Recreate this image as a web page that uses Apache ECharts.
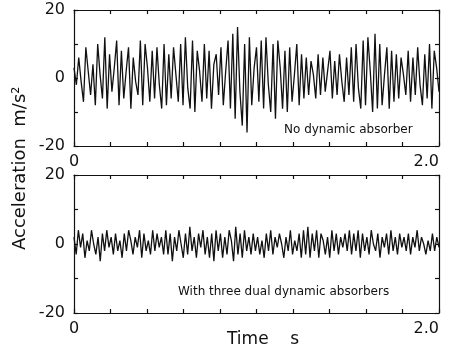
<!DOCTYPE html>
<html>
<head>
<meta charset="utf-8">
<script src="https://cdn.jsdelivr.net/npm/echarts@6/dist/echarts.min.js"></script>
<style>
  html, body { margin: 0; padding: 0; background: #fff; }
  #chart { width: 456px; height: 349px; }
</style>
</head>
<body>
<div id="chart"></div>
<script>
// acceleration samples (m/s^2), evenly spread over 0..2 s
const noAbsorber = [
  3, -2, 6, -1, -7, 9, 2, -5, 4, -8, 10, 1, -6, 12, -9, 7, -4, 3, 11, -8,
  8, -6, 2, 9, -9, 6, -1, -5, 11, -8, 10, 3, -7, 8, -6, 9, -2, -9, 10, -8,
  7, -6, 9, 1, -7, 10, -8, 12, -3, -9, 11, -10, 8, 2, -7, 10, -6, 8, -9, 4,
  7, -5, 9, -8, 2, 11, -9, 13, -12, 15, -4, -14, 10, -16, 12, -8, 3, 9, -7,
  11, -9, 12, -2, -10, 10, -12, 11, 3, -9, 8, -10, 9, -7, 1, 10, -8, 7, -6,
  6, -5, 5, 1, -6, 7, -5, 6, -4, 2, 8, -6, 5, -5, 7, -1, -7, 6, -5,
  9, -7, 10, -3, -9, 11, -8, 12, 2, -10, 13, -9, 10, -8, 1, 9, -9, 8, -7,
  7, -6, 6, 1, -5, 8, -7, 6, -5, 9, -2, -8, 7, -6, 10, -9, 8, 3, -4
];
const threeAbsorbers = [
  2, -3, 4, -1, 3, -4, 1, -2, 4, 0, -3, 2, -5, 3, -2, 4, -1, 2, -3, 3, -2,
  1, -4, 3, -2, 4, 1, -3, 2, -1, 4, -4, 3, -2, 1, -3, 4, -2, 3, -1, 2, -3,
  4, -3, 3, -5, 2, -2, 4, 0, -4, 3, -3, 5, -2, 2, -4, 3, -1, 4, -3, 2, -4,
  3, -5, 4, -2, 3, -4, 2, -3, 4, 1, -5, 5, -3, 3, -4, 4, -2, 2, -3, 3, -2,
  2, -3, 1, -4, 3, -2, 4, -3, 2, -1, 3, 0, -4, 2, -2, 4, -3, 1, -2, 3, -4,
  4, -3, 5, -4, 3, -2, 4, -4, 3, 1, -3, 2, -4, 4, -2, 3, -3, 2, -1, 3, -2,
  4, -3, 3, -2, 4, -4, 3, -2, 2, -3, 4, 0, -2, 3, -4, 2, -1, 3, -3, 4, -2,
  2, -3, 3, -1, 2, -2, 3, -3, 2, -1, 4, -2, 2, 0, -3, 1, -2, 3, -2, 2, -1
];
const panelLabels = ['No dynamic absorber', 'With three dual dynamic absorbers'];
const tEnd = 2;

const toPairs = (vals) => vals.map((v, i) => [i * tEnd / (vals.length - 1), v]);

const font = 'DejaVu Sans';
const axisLine = { show: true, onZero: false, lineStyle: { color: '#111', width: 1.2 } };
const tick = { show: true, inside: true, length: 4, lineStyle: { color: '#111', width: 1.2 } };

const xBottom = (gridIndex) => ({
  type: 'value', gridIndex, min: 0, max: tEnd, interval: 0.2, position: 'bottom',
  axisLine, axisTick: tick, splitLine: { show: false },
  axisLabel: {
    margin: 8, color: '#111', fontFamily: font, fontSize: 16, alignMaxLabel: 'right',
    formatter: (v) => (v === 0 ? '0' : Math.abs(v - 2) < 1e-6 ? '2.0' : '')
  }
});
const xTop = (gridIndex) => ({
  type: 'value', gridIndex, min: 0, max: tEnd, interval: 0.2, position: 'top',
  axisLine, axisTick: tick, axisLabel: { show: false }, splitLine: { show: false }
});
const yLeft = (gridIndex) => ({
  type: 'value', gridIndex, min: -20, max: 20, interval: 10, position: 'left',
  axisLine, axisTick: tick, splitLine: { show: false },
  axisLabel: {
    margin: 9, color: '#111', fontFamily: font, fontSize: 16,
    formatter: (v) => (v === 20 ? '20' : v === 0 ? '0' : v === -20 ? '-20' : '')
  }
});
const yRight = (gridIndex) => ({
  type: 'value', gridIndex, min: -20, max: 20, interval: 10, position: 'right',
  axisLine, axisTick: tick, axisLabel: { show: false }, splitLine: { show: false }
});

const chart = echarts.init(document.getElementById('chart'));
chart.setOption({
  animation: false,
  backgroundColor: '#fff',
  grid: [
    { left: 74, top: 10, width: 365, height: 136 },
    { left: 74, top: 175, width: 365, height: 138 }
  ],
  xAxis: [xBottom(0), xTop(0), xBottom(1), xTop(1)],
  yAxis: [yLeft(0), yRight(0), yLeft(1), yRight(1)],
  series: [
    {
      type: 'line', xAxisIndex: 0, yAxisIndex: 0, data: toPairs(noAbsorber),
      showSymbol: false, lineStyle: { color: '#111', width: 1.3 }
    },
    {
      type: 'line', xAxisIndex: 2, yAxisIndex: 2, data: toPairs(threeAbsorbers),
      showSymbol: false, lineStyle: { color: '#111', width: 1.3 }
    }
  ],
  graphic: [
    {
      type: 'text', left: 284, top: 124,
      style: { text: panelLabels[0], font: '12px "DejaVu Sans"', fill: '#111' }
    },
    {
      type: 'text', left: 178, top: 286,
      style: { text: panelLabels[1], font: '12px "DejaVu Sans"', fill: '#111' }
    },
    {
      type: 'text', left: 227, top: 331,
      style: { text: 'Time    s', font: '17px "DejaVu Sans"', fill: '#111' }
    },
    {
      type: 'text', x: 11, y: 250, rotation: Math.PI / 2,
      style: { text: 'Acceleration  m/s²', font: '18px "DejaVu Sans"', fill: '#111' }
    }
  ]
});
</script>
</body>
</html>
